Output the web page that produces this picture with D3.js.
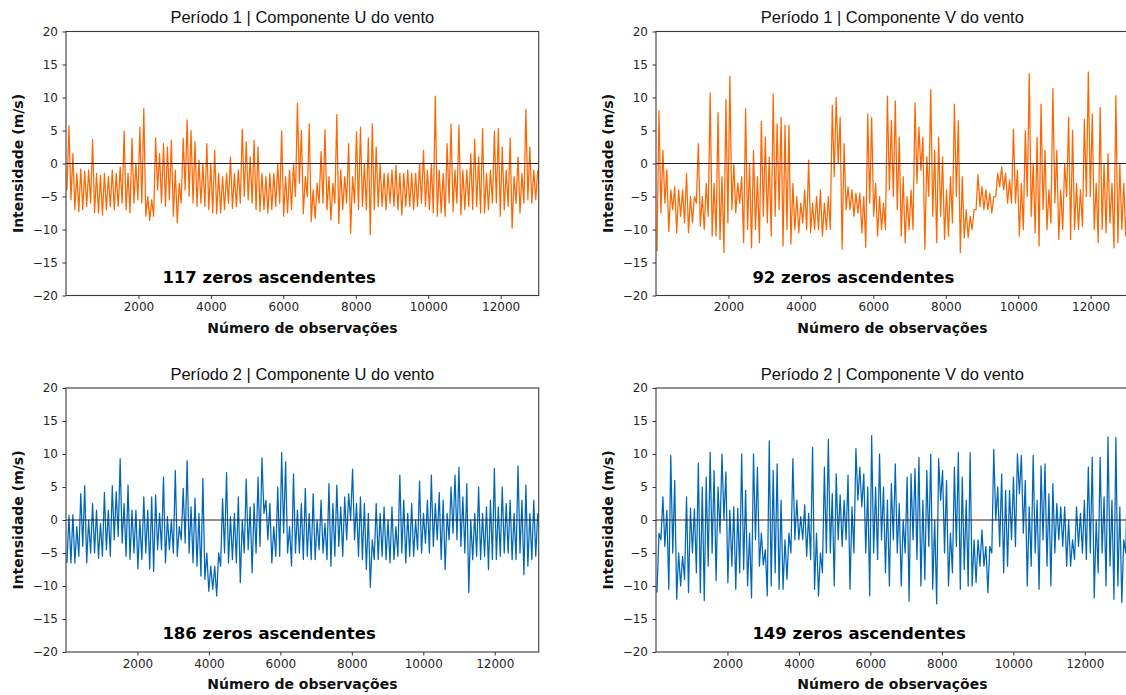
<!DOCTYPE html>
<html>
<head>
<meta charset="utf-8">
<script src="https://cdn.jsdelivr.net/npm/d3@7"></script>
<style>
body { margin: 0; background: #fff; }
.tick text { font-family: "DejaVu Sans", sans-serif; font-size: 12px; fill: #262626; }
.tick line { stroke: #333; stroke-width: 1; }
</style>
</head>
<body>
<svg id="canvas" width="1126" height="695"></svg>
<script>
//Chart data
var titles = ["Período 1 | Componente U do vento", "Período 1 | Componente V do vento",
              "Período 2 | Componente U do vento", "Período 2 | Componente V do vento"];
var zeros = [117, 92, 186, 149];
var n_obs = [13050, 13050, 13230, 13230];
var colors = ["#ff6600", "#ff6600", "#0066b8", "#0066b8"];
var x_ticks = [2000, 4000, 6000, 8000, 10000, 12000];
var y_ticks = [-20, -15, -10, -5, 0, 5, 10, 15, 20];

//Min / max of each block of observations (120 blocks per series)
var u1_lo = [-4,-5.5,-7,-7.3,-7,-6.5,-6,-7.5,-7.5,-7.8,
    -7,-6.5,-7,-6.5,-6,-7,-7.5,-6,-5.5,-6,
    -8,-8.6,-8,-4,-6,-6.5,-5.5,-8,-9,-6,
    -4,-5,-6,-6.5,-6,-6.5,-7,-7.5,-7.6,-7.5,
    -7,-6,-6.8,-6.5,-6,-5,-5.5,-6,-7,-7.3,
    -7,-7.5,-7,-6.5,-6,-8,-7.5,-7,-5,-3,
    -7.6,-5,-8.8,-8.3,-6,-6,-7,-8.6,-6,-9.1,
    -7,-6,-10.6,-6,-7,-6.5,-7,-10.8,-7,-6.5,
    -6.5,-7,-6,-6.5,-7,-7.8,-6.5,-6.5,-7,-6.5,
    -6,-6.5,-7,-7.5,-8,-7.5,-8,-6,-7.3,-6,
    -7.8,-7,-6.5,-7,-6.5,-7.5,-7.5,-7,-6,-6,
    -8,-7,-6.5,-9.8,-6,-7.5,-6,-5.5,-6,-5.5];
var u1_hi = [5.7,1.5,-1.5,-0.8,-1.2,-1,3.6,-1.5,-1.8,-1.5,
    -2,-1,-1.5,-0.5,4.9,-1.5,3.8,0,5.5,8.3,
    -5,-5.5,3.9,1.5,3,2.5,3.5,-1,-3,3.8,
    6.6,5,3.3,0.5,0,3,0,2,-1.5,-2,
    -1.5,1,-1.5,-1,5.2,3.3,1,3.5,2.5,-1.5,
    -2,-1.5,-1.5,0,4.9,-2,-1,0,9.1,5,
    -2,6,-4,-3,1.8,5.1,-2,-3,7.4,-1,
    -2,3,-2,4.8,5.5,0,3.9,6,2.5,0,
    -1.5,-1.5,-1,-0.3,-1.5,-1.5,-1,-1.5,-1.5,0,
    2,-1,0,10.2,-1,-1.5,3,6,-1,5.8,
    -1,-1,1.5,3.7,1,5.3,-1.5,-1,4.9,5.3,
    2.5,-1,3.9,-2,1,-1.5,8.2,2.5,-1,-1];

var v1_lo = [-13.3,-7.5,-6,-10.3,-7,-10.5,-8,-9,-10.5,-9,
    -6,-9.5,-10,-8,-11,-11,-11.5,-13.5,-9,-7,
    -7.5,-6,-12,-10,-12.8,-10,-12,-8,-9,-11,
    -8,-7,-12.5,-10,-12.2,-10,-10.5,-9,-10,-10.5,
    -10,-10,-11,-10,-10,-2,0,-13,-7,-7,
    -8,-7.5,-10.5,-12.7,-6,-8,-11,-10,-10,-4,
    -5,-7,-11,-12,-10,-10,-3,-1,-13,-5,
    -8,-12,-8,-11.5,-11,-9,-5,-13.5,-11.3,-11.2,
    -10,-7,-6.5,-7,-7,-7.5,-5,-3.5,-4,-6,
    -6,-6,-11,-10,-5,-8,-10.5,-12.5,-7,-10,
    -9,-6,-11.5,-10,-5,-11.5,-10,-10,-9.5,-5,
    -5,-10,-12,-10,-10.5,-9,-12.8,-12,-10,-11];
var v1_hi = [8,2,-1,-4,-3.5,-4,-4,-1.5,-5,-5,
    3,-5,-3,10.7,-3,7.7,-2,9.7,13.2,0,
    -3,-2,8.3,0,2,-2,6.4,4,1,10.5,
    6,7,5.8,5.8,-3,-5,-6,-4,0.5,-6,
    -5,-4,-6,-5,8.8,10,7,3,-3.5,-4,
    -4.5,-4.5,-5,7.5,7,-3,-5,-6,10.2,6.5,
    9.5,4,-2,-5,-4,9.2,5.5,4,1,11.2,
    2,4,1,-4,-2,9,6.5,-2,-7,-8,
    -7,-1.7,-3.5,-4,-4.5,-5,-1.5,-0.5,-1.5,-2.5,
    5.2,-1,-3,5,13.6,0,4,9,2,-4,
    11.4,2,-4,0,7,5,-3,-4,6.7,13.9,
    7.5,-3,8.5,0,1.5,-3,10.3,0,-3,-4];

var u2_lo = [-6.5,-6.5,-6.5,-5.5,-4,-6.5,-5,-5,-5.8,-5.5,
    -4.5,-5.5,-3,-2.5,-3.5,-5.5,-6,-5,-7.4,-6,
    -5,-7.4,-7.8,-4.5,-4.5,-6.5,-4.5,-5,-5.5,-3,
    -3.5,-5,-6.5,-7,-8.5,-9,-10.8,-10.5,-11.5,-7,
    -5,-6.5,-6,-6.5,-9.5,-5,-4.5,-8,-5,-4,
    1,-3,-6.5,-5.5,-5.5,-2,-5,-7,-5,-5,
    -6,-5.5,-6,-6,-4.5,-5,-6,-7,-5.5,-4,
    -5.5,-3,0,-3,-5.5,-6,-7.5,-10.2,-6,-6,
    -5.5,-6,-6.5,-6,-5.5,-5,-6.5,-5.5,-5.5,-4.5,
    -5,-3.5,-5,-4,-3,-6,-7.5,-3,-2,-3,
    -4,-5,-11,-6,-5.5,-6,-5.5,-7.5,-6,-6,
    -5.5,-5,-5,-6,-6,-5,-8.3,-7,-6,-5.5];
var u2_hi = [0.7,0.8,-1,4,5.2,0,2.5,1.5,-0.5,4.2,
    1.5,5.2,4.3,9.3,2.5,5.3,1.5,1.5,0,3.5,
    1.5,3.5,3.8,1,6.5,0.5,0,7.5,-1,4.8,
    9,2,3.3,1,6.3,-5,-7,-7,-5,3.2,
    7.2,0.5,1,3.5,0,6.2,2,2.5,6.5,9.4,
    3,2.5,-1,5,10.2,8.8,-1,7,1.5,2.5,
    4.8,1,4,0,3,-0.5,5.5,2.5,5.3,2,
    3.5,4,7.7,2.5,3.5,2.5,1,-3,2.5,1,
    2,0,2,-1,6.8,3,1,2.5,0,5.9,
    1,3,6.8,2.5,4.2,3,1,5,6.8,8,
    3.5,5.5,0,1,5,1,2,3,7.8,2,
    5,2.5,3,1,8.2,3,5.3,1,3,1];

var v2_lo = [-11,-3,-4,-10.5,-5,-12,-10,-9,-11,-5,
    -8,-11,-12.2,-7,-5,-9.2,-2,0,-9.5,-7,
    -10.5,-8,-7.5,-10,-11.8,-3,-7,-6.8,-11.5,-10,
    -8,-10.5,-10.5,-9,-5,-3,-3,-3,-5.5,-6,
    -10.5,-11.5,-8,-5,-5,-10,-3,-4,-3,-10.5,
    -5,3,2,-5,-11.5,-5,-6,-3,-8,-10,
    -3,-5,-10,-5,-12.3,-3,-6,-10,-9,-4,
    -10.5,-12.7,3,-5,-10,-8,-4,-10.5,-7.5,-10,
    -10,-9.5,-7,-7,-11,-5,0,-4,-8,-7,
    -3,-4,4,-2,-10,-7,-5,-10.5,-3,-7,
    -10,-5,-3,-4,-7,-7,-6,-4,-5,-6,
    -5,-11.8,-8,-5,-10,-7,-12,-10,-12.5,-5];
var v2_hi = [-2,3.5,1.5,9.8,6,-5,-5.5,3.5,1.8,1.7,
    8.6,5,6.5,10.3,7.5,5,10,7.3,1.5,2,
    1.8,10,4.5,-2,10,8,-2,-4.5,12,7.5,
    8.5,3,-3,-2,9.3,3,0.5,2.3,1,11,
    -2,-5,8,12.2,4,7,3.8,3,6.8,2,
    10.8,8,7,5,12.8,5,10,5,3,5.5,
    8.5,2.5,0,6.5,7,7.8,9.5,3,7.5,10,
    0,9.3,7.5,6,-2,8,10.2,6.5,3,10.2,
    -3,-3,-1.5,-4,-4,10.7,5,7,4.5,4.5,
    6.5,10,9.8,6,2,9.8,3,8.2,8.5,4,
    5.5,2.5,2,2,0,-3,2,1,3,8,
    9.5,0,9.5,3.5,12.6,3,12.5,2,-3,9.5];

var lows = [u1_lo, v1_lo, u2_lo, v2_lo];
var highs = [u1_hi, v1_hi, u2_hi, v2_hi];

//Panel layout
var col_left = [66, 656];
var row_top = [31.5, 388];
var pw = 472.7;
var ph = 264;

var svg = d3.select("#canvas");

//Turn block min/max into a zig-zag trace
function trace(lo, hi, n) {
    var w = n / lo.length;
    var pts = [];
    lo.forEach(function(v, i) {
        pts.push([(i + 0.25) * w, v]);
        pts.push([(i + 0.75) * w, hi[i]]);
    });
    return pts;
}

titles.forEach(function(title, k) {
    var left = col_left[k % 2];
    var top = row_top[Math.floor(k / 2)];

    var x = d3.scaleLinear().domain([0, n_obs[k]]).range([left, left + pw]);
    var y = d3.scaleLinear().domain([-20, 20]).range([top + ph, top]);

    var g = svg.append("g");

    //Series
    g.append("path")
        .datum(trace(lows[k], highs[k], n_obs[k]))
        .attr("fill", "none")
        .attr("stroke", colors[k])
        .attr("stroke-width", 1.25)
        .attr("stroke-linejoin", "round")
        .attr("d", d3.line()
            .x(function(d) { return x(d[0]); })
            .y(function(d) { return y(d[1]); }));

    //Zero reference line
    g.append("line")
        .attr("x1", left).attr("x2", left + pw)
        .attr("y1", y(0)).attr("y2", y(0))
        .attr("stroke", "#222")
        .attr("stroke-width", 1);

    //Frame
    g.append("rect")
        .attr("x", left).attr("y", top)
        .attr("width", pw).attr("height", ph)
        .attr("fill", "none")
        .attr("stroke", "#3a3a3a")
        .attr("stroke-width", 1.1);

    //Axes
    g.append("g")
        .attr("transform", "translate(0," + (top + ph) + ")")
        .call(d3.axisBottom(x).tickValues(x_ticks).tickSize(3.5).tickPadding(3.5).tickFormat(d3.format("d")))
        .call(function(a) { a.select(".domain").remove(); });

    g.append("g")
        .attr("transform", "translate(" + left + ",0)")
        .call(d3.axisLeft(y).tickValues(y_ticks).tickSize(3.5).tickPadding(4.5).tickFormat(d3.format("d")))
        .call(function(a) { a.select(".domain").remove(); });

    //Texts
    g.append("text")
        .attr("x", left + pw / 2)
        .attr("y", top - 8.5)
        .attr("text-anchor", "middle")
        .style("font-family", "'Liberation Sans', Arial, sans-serif")
        .style("font-size", "16.5px")
        .style("fill", "#111")
        .text(title);

    g.append("text")
        .attr("x", left + pw / 2)
        .attr("y", top + ph + 37)
        .attr("text-anchor", "middle")
        .style("font-family", "'DejaVu Sans', sans-serif")
        .style("font-size", "14px")
        .style("font-weight", "bold")
        .style("fill", "#111")
        .text("Número de observações");

    g.append("text")
        .attr("transform", "translate(" + (left - 43.5) + "," + (top + ph / 2) + ") rotate(-90)")
        .attr("text-anchor", "middle")
        .style("font-family", "'DejaVu Sans', sans-serif")
        .style("font-size", "14px")
        .style("font-weight", "bold")
        .style("fill", "#111")
        .text("Intensidade (m/s)");

    g.append("text")
        .attr("x", left + 96.4)
        .attr("y", y(-18.1))
        .style("font-family", "'DejaVu Sans', sans-serif")
        .style("font-size", "16.5px")
        .style("font-weight", "bold")
        .style("fill", "#000")
        .text(zeros[k] + " zeros ascendentes");
});
</script>
</body>
</html>
